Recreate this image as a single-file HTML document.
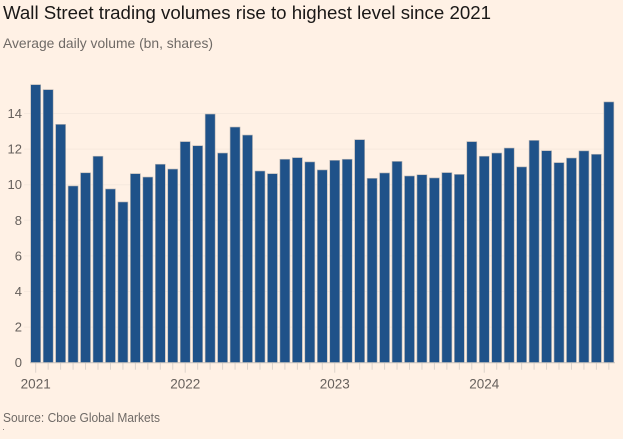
<!DOCTYPE html>
<html lang="en">
<head>
<meta charset="utf-8">
<title>Wall Street trading volumes rise to highest level since 2021</title>
<style>
  html, body { margin: 0; padding: 0; background: #fff1e5; }
  body { width: 623px; height: 439px; overflow: hidden; }
  svg { display: block; font-family: "Liberation Sans", sans-serif; }
</style>
</head>
<body>
<svg id="chart" width="623" height="439" viewBox="0 0 623 439" xmlns="http://www.w3.org/2000/svg">
  <rect x="0" y="0" width="623" height="439" fill="#fff1e5"/>
  <text x="3" y="19" font-size="18" fill="#1a1817" textLength="488" lengthAdjust="spacingAndGlyphs">Wall Street trading volumes rise to highest level since 2021</text>
  <text x="3" y="48" font-size="14" fill="#6f6a66" textLength="210" lengthAdjust="spacingAndGlyphs">Average daily volume (bn, shares)</text>
  <g id="grid"></g>
  <g id="bars"></g>
  <g id="x-axis"></g>
  <g id="y-axis"></g>
  <text x="3" y="422" font-size="13" fill="#6f6a66" textLength="157" lengthAdjust="spacingAndGlyphs">Source: Cboe Global Markets</text>
  <rect x="3" y="429" width="1" height="1" fill="#8a8480"/>
</svg>
<script>
const values = [
  15.62, 15.34, 13.39, 9.93, 10.67, 11.6, 9.76, 9.03, 10.62, 10.43, 11.15, 10.88,
  12.42, 12.19, 13.97, 11.78, 13.24, 12.79, 10.77, 10.62, 11.43, 11.52, 11.28, 10.83,
  11.37, 11.43, 12.53, 10.36, 10.66, 11.31, 10.49, 10.56, 10.38, 10.68, 10.58, 12.42,
  11.6, 11.78, 12.06, 11.0, 12.49, 11.91, 11.24, 11.5, 11.9, 11.71, 14.65
];
const yTicks = [0, 2, 4, 6, 8, 10, 12, 14];
const yearLabels = ["2021", "2022", "2023", "2024"];
const monthsPerYear = 12;

const NS = "http://www.w3.org/2000/svg";
const plot = { x0: 35.7, step: 12.46, barWidth: 10, baseY: 362.7, unit: 17.8, right: 614, left: 24 };
const xScale = function (i) { return plot.x0 + plot.step * i; };
const yScale = function (v) { return plot.baseY - plot.unit * v; };

const gridGroup = document.getElementById("grid");
const barGroup = document.getElementById("bars");
const xGroup = document.getElementById("x-axis");
const yGroup = document.getElementById("y-axis");

yTicks.forEach(function (t) {
  const y = yScale(t);
  if (t > 0) {
    const line = document.createElementNS(NS, "line");
    
    
    line.setAttribute("x1", plot.left);
    line.setAttribute("x2", plot.right);
    line.setAttribute("y1", y);
    line.setAttribute("y2", y);
    line.setAttribute("stroke", "#f6e9de");
    line.setAttribute("stroke-width", "1");
    gridGroup.appendChild(line);
  }
  const label = document.createElementNS(NS, "text");
  
  
  label.setAttribute("x", 22);
  label.setAttribute("y", y + 4.5);
  label.setAttribute("text-anchor", "end");
  label.setAttribute("font-size", "13");
  label.setAttribute("fill", "#66605c");
  label.textContent = String(t);
  yGroup.appendChild(label);
});

values.forEach(function (v, i) {
  const bar = document.createElementNS(NS, "rect");
  
  
  const top = yScale(v);
  bar.setAttribute("x", xScale(i) - plot.barWidth / 2);
  bar.setAttribute("y", top);
  bar.setAttribute("width", plot.barWidth);
  bar.setAttribute("height", plot.baseY - top);
  bar.setAttribute("fill", "#1f5289");
  bar.setAttribute("stroke", "#b9b6b4");
  bar.setAttribute("stroke-width", "0.6");
  barGroup.appendChild(bar);

  const isYear = i % monthsPerYear === 0;
  const tick = document.createElementNS(NS, "line");
  
  
  tick.setAttribute("x1", xScale(i));
  tick.setAttribute("x2", xScale(i));
  tick.setAttribute("y1", plot.baseY);
  tick.setAttribute("y2", plot.baseY + (isYear ? 10 : 7));
  tick.setAttribute("stroke", "#dcd3cb");
  tick.setAttribute("stroke-width", "1");
  xGroup.appendChild(tick);
});

const axisLine = document.createElementNS(NS, "line");


axisLine.setAttribute("x1", plot.left + 6);
axisLine.setAttribute("x2", plot.right + 1);
axisLine.setAttribute("y1", plot.baseY);
axisLine.setAttribute("y2", plot.baseY);
axisLine.setAttribute("stroke", "#c9c3bd");
axisLine.setAttribute("stroke-width", "1");
xGroup.appendChild(axisLine);

yearLabels.forEach(function (label, i) {
  const text = document.createElementNS(NS, "text");
  
  
  text.setAttribute("x", xScale(i * monthsPerYear));
  text.setAttribute("y", 388.5);
  text.setAttribute("text-anchor", "middle");
  text.setAttribute("font-size", "13.5");
  text.setAttribute("fill", "#66605c");
  text.textContent = label;
  xGroup.appendChild(text);
});
</script>
</body>
</html>
